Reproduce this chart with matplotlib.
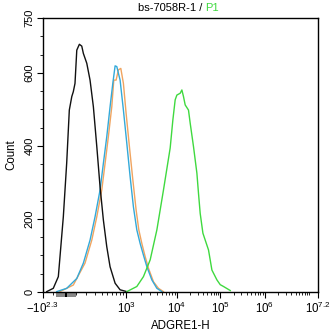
import numpy as np
import matplotlib
matplotlib.use("Agg")
import matplotlib.pyplot as plt
from matplotlib.ticker import FixedLocator

plt.rcParams["font.family"] = ["Liberation Sans", "DejaVu Sans"]
plt.rcParams["mathtext.fontset"] = "custom"
plt.rcParams["mathtext.rm"] = "Liberation Sans"

# histogram traces: intensity (ADGRE1-H) and count
black_x = [-158, -96, -52, -10, 18, 40, 61, 74, 89, 105, 129, 152, 168, 204, 241,
           282, 328, 376, 430, 491, 557, 672, 806, 1033]
black_y = [1, 10, 42, 206, 353, 498, 535, 548, 571, 662, 678, 673, 653, 626, 580,
           507, 398, 288, 197, 124, 69, 24, 6, 1]

blue_x = [-66, 18, 105, 168, 241, 304, 376, 430, 491, 557, 617, 672, 715, 806, 908,
          1033, 1203, 1400, 1635, 1900, 2209, 2582, 3236, 4056, 5083]
blue_y = [1, 10, 37, 79, 142, 206, 279, 352, 425, 507, 571, 619, 617, 580, 498,
          407, 316, 233, 170, 133, 101, 69, 33, 10, 1]

orange_x = [-38, 74, 185, 262, 328, 403, 460, 522, 594, 640, 697, 758, 827, 908,
            1000, 1165, 1363, 1585, 1791, 2053, 2386, 2776, 3478, 4360, 5462]
orange_y = [1, 19, 79, 142, 206, 279, 352, 425, 507, 580, 580, 608, 612, 571,
            489, 398, 307, 224, 170, 133, 97, 65, 28, 10, 1]

green_x = [1033, 1635, 2209, 2998, 4056, 5462, 7392, 8348, 9263, 10000, 11921,
           13044, 14208, 15552, 18528, 20292, 24180, 28968, 31536, 34524, 39852,
           45048, 53676, 64308, 83940, 100000, 118716, 168120]
green_y = [1, 15, 42, 88, 170, 279, 394, 471, 526, 539, 544, 553, 535, 512, 498,
           462, 398, 325, 270, 215, 161, 142, 115, 60, 33, 20, 15, 4]

xticks = [-10**2.3, 1e3, 1e4, 1e5, 1e6, 10**7.2]
xticklabels = [r"$\mathregular{-10^{2.3}}$", r"$\mathregular{10^{3}}$",
               r"$\mathregular{10^{4}}$", r"$\mathregular{10^{5}}$",
               r"$\mathregular{10^{6}}$", r"$\mathregular{10^{7.2}}$"]
yticks = [0, 200, 400, 600, 750]

# biexponential-like display scale (asinh, stretched piecewise between decades)
C = 240.0
anchor_a = np.arcsinh(np.array(xticks) / C)
anchor_p = np.array([0.0, 83.3, 134.0, 177.3, 221.6, 275.0])


def fwd(x):
    a = np.arcsinh(np.asarray(x, dtype=float) / C)
    return np.interp(a, anchor_a, anchor_p)


def inv(p):
    a = np.interp(np.asarray(p, dtype=float), anchor_p, anchor_a)
    return C * np.sinh(a)


fig = plt.figure(figsize=(3.32, 3.35), dpi=100)
ax = fig.add_axes([0.1286, 0.1284, 0.8294, 0.8179])
ax.set_xscale("function", functions=(fwd, inv))

ax.plot(orange_x, orange_y, color="#f0a460", lw=1.0)
ax.plot(blue_x, blue_y, color="#33a9d9", lw=1.0)
ax.plot(black_x, black_y, color="#111111", lw=1.0)
ax.plot(green_x, green_y, color="#3fd93f", lw=1.0)

ax.set_xlim(xticks[0], xticks[-1])
ax.set_ylim(0, 750)

ax.xaxis.set_major_locator(FixedLocator(xticks))
ax.set_xticklabels(xticklabels, fontsize=8.3)
minor = [-100, 100] + [m * 10**k for k in range(2, 7) for m in range(2, 10)] + [1e7]
ax.xaxis.set_minor_locator(FixedLocator(minor))

ax.yaxis.set_major_locator(FixedLocator(yticks))
ax.yaxis.set_minor_locator(FixedLocator(list(range(50, 750, 50))))
ax.set_yticklabels([str(v) for v in yticks], fontsize=8, rotation=90, va="center")

ax.tick_params(which="major", direction="out", length=4, width=0.8, pad=2)
ax.tick_params(which="minor", direction="out", length=2.5, width=0.6)
for s in ax.spines.values():
    s.set_linewidth(1.0)

ax.set_xlabel("ADGRE1-H", fontsize=8.3, labelpad=3)
ax.set_ylabel("Count", fontsize=8.3, labelpad=5)

# gray bar with black mark under the axis (linear region marker)
trans = ax.get_xaxis_transform()
ax.fill_between([-70, 100], [-0.017, -0.017], [-0.004, -0.004], transform=trans,
                color="#888888", clip_on=False, lw=0)
ax.fill_between([2, 22], [-0.017, -0.017], [-0.004, -0.004], transform=trans,
                color="#000000", clip_on=False, lw=0)

ax.text(0.59, 1.018, "bs-7058R-1 / ", transform=ax.transAxes, ha="right",
        va="bottom", fontsize=8)
ax.text(0.59, 1.018, "P1", transform=ax.transAxes, ha="left", va="bottom",
        fontsize=8, color="#3fd93f")

fig.savefig("out.png", dpi=100)
